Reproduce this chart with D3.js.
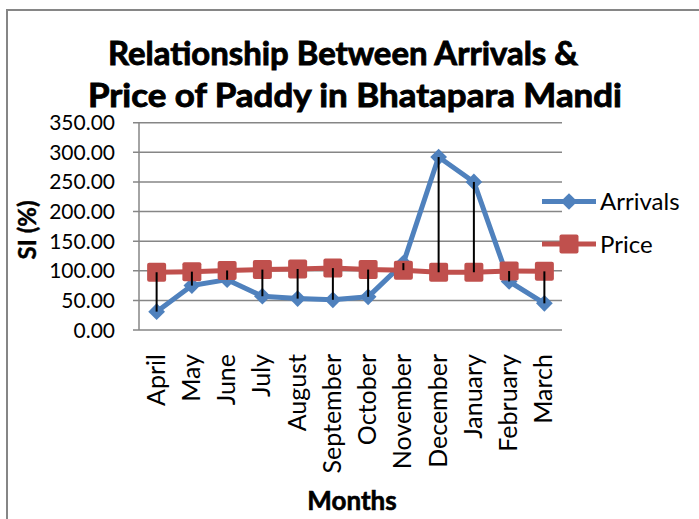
<!DOCTYPE html>
<html>
<head>
<meta charset="utf-8">
<script src="https://cdn.jsdelivr.net/npm/d3@7"></script>
<style>
  body { margin: 0; background: #fff; }
  text { font-family: Lato, "Open Sans", sans-serif; fill: #000; }
</style>
</head>
<body>
<div id="chart"></div>
<script>
// data
const months = ["April", "May", "June", "July", "August", "September", "October",
                "November", "December", "January", "February", "March"];
const arrivals = [31, 75, 85, 57, 53, 51, 56, 113, 292, 250, 82, 45];
const price = [97.5, 98.5, 100.5, 102, 103, 104.5, 102, 101, 97.5, 97.5, 99.5, 99];
const yTicks = [0, 50, 100, 150, 200, 250, 300, 350];

const W = 699, H = 519;
const blue = "#4f81bd", red = "#c0504d", grid = "#868686";

const svg = d3.select("#chart").append("svg")
    .attr("width", W)
    .attr("height", H);

// outer chart border (only left and top visible)
svg.append("path")
    .attr("d", `M7,${H} L7,10 L${W},10`)
    .attr("fill", "none")
    .attr("stroke", grid)
    .attr("stroke-width", 2);

const x = d3.scaleBand().domain(months).range([139, 562]);
const y = d3.scaleLinear().domain([0, 350]).range([330, 122.7]);
const cx = m => x(m) + x.bandwidth() / 2;

// gridlines
svg.append("g").selectAll("line")
    .data(yTicks)
    .join("line")
    .attr("x1", 133)
    .attr("x2", 562)
    .attr("y1", d => y(d))
    .attr("y2", d => y(d))
    .attr("stroke", grid)
    .attr("stroke-width", 1.5);

// y axis line
svg.append("line")
    .attr("x1", 139).attr("x2", 139)
    .attr("y1", y(350)).attr("y2", y(0))
    .attr("stroke", grid)
    .attr("stroke-width", 1.5);

// y tick labels
svg.append("g").selectAll("text")
    .data(yTicks)
    .join("text")
    .attr("x", 115)
    .attr("y", d => y(d))
    .attr("dy", "0.36em")
    .attr("text-anchor", "end")
    .style("font-size", "21px")
    .text(d => d.toFixed(2));

// x tick labels
svg.append("g").selectAll("text")
    .data(months)
    .join("text")
    .attr("transform", d => `translate(${cx(d) + 8},354) rotate(-90)`)
    .attr("text-anchor", "end")
    .style("font-size", "25px")
    .text(d => d);

const line = d3.line().x((d, i) => cx(months[i])).y(d => y(d));

// Arrivals series
svg.append("path")
    .datum(arrivals)
    .attr("d", line)
    .attr("fill", "none")
    .attr("stroke", blue)
    .attr("stroke-width", 5)
    .attr("stroke-linejoin", "round");

// Price series
svg.append("path")
    .datum(price)
    .attr("d", line)
    .attr("fill", "none")
    .attr("stroke", red)
    .attr("stroke-width", 5)
    .attr("stroke-linejoin", "round");

const diamond = d3.symbol().type(d3.symbolSquare).size(140);
svg.append("g").selectAll("path")
    .data(arrivals)
    .join("path")
    .attr("d", diamond)
    .attr("transform", (d, i) => `translate(${cx(months[i])},${y(d)}) rotate(45)`)
    .attr("fill", blue);

svg.append("g").selectAll("rect")
    .data(price)
    .join("rect")
    .attr("x", (d, i) => cx(months[i]) - 9.5)
    .attr("y", d => y(d) - 9.5)
    .attr("width", 19)
    .attr("height", 19)
    .attr("rx", 2)
    .attr("fill", red);

// high-low lines between the two series
svg.append("g").selectAll("line")
    .data(months)
    .join("line")
    .attr("x1", d => cx(d))
    .attr("x2", d => cx(d))
    .attr("y1", (d, i) => y(price[i]))
    .attr("y2", (d, i) => y(arrivals[i]))
    .attr("stroke", "#000")
    .attr("stroke-width", 2);

// legend
const legend = svg.append("g");
legend.append("line")
    .attr("x1", 542).attr("x2", 596).attr("y1", 201.5).attr("y2", 201.5)
    .attr("stroke", blue).attr("stroke-width", 5);
legend.append("path")
    .attr("d", diamond)
    .attr("transform", "translate(569,201.5) rotate(45)")
    .attr("fill", blue);
legend.append("text")
    .attr("x", 600).attr("y", 201.5).attr("dy", "0.36em")
    .style("font-size", "24px")
    .text("Arrivals");

legend.append("line")
    .attr("x1", 542).attr("x2", 596).attr("y1", 244).attr("y2", 244)
    .attr("stroke", red).attr("stroke-width", 5);
legend.append("rect")
    .attr("x", 559.5).attr("y", 234.5).attr("width", 19).attr("height", 19).attr("rx", 2)
    .attr("fill", red);
legend.append("text")
    .attr("x", 600).attr("y", 244).attr("dy", "0.36em")
    .style("font-size", "24px")
    .text("Price");

// title
svg.append("text")
    .attr("x", 343).attr("y", 65)
    .attr("text-anchor", "middle")
    .attr("textLength", 470)
    .attr("lengthAdjust", "spacingAndGlyphs")
    .style("font-weight", "bold")
    .style("font-size", "33px")
    .style("stroke", "#000")
    .style("stroke-width", 0.9)
    .text("Relationship Between Arrivals &");
svg.append("text")
    .attr("x", 355).attr("y", 107)
    .attr("text-anchor", "middle")
    .attr("textLength", 534)
    .attr("lengthAdjust", "spacingAndGlyphs")
    .style("font-weight", "bold")
    .style("font-size", "33px")
    .style("stroke", "#000")
    .style("stroke-width", 0.9)
    .text("Price of Paddy in Bhatapara Mandi");

// axis titles
svg.append("text")
    .attr("transform", "translate(36,230) rotate(-90)")
    .attr("text-anchor", "middle")
    .style("font-weight", "bold")
    .style("font-size", "24px")
    .style("stroke", "#000")
    .style("stroke-width", 0.4)
    .text("SI (%)");

svg.append("text")
    .attr("x", 352)
    .attr("y", 510)
    .attr("text-anchor", "middle")
    .style("font-weight", "bold")
    .style("font-size", "26px")
    .style("stroke", "#000")
    .style("stroke-width", 0.6)
    .text("Months");
</script>
</body>
</html>
